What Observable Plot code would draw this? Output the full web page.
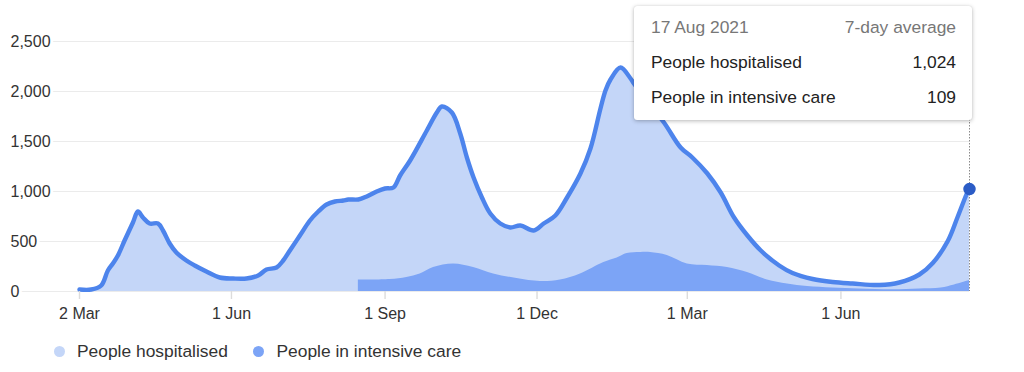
<!DOCTYPE html>
<html>
<head>
<meta charset="utf-8">
<script src="https://cdn.jsdelivr.net/npm/d3@7"></script>
<script src="https://cdn.jsdelivr.net/npm/@observablehq/plot@0.6"></script>
<style>
  html, body { margin: 0; padding: 0; background: #fff; }
  body { position: relative; width: 1024px; height: 372px; overflow: hidden;
         font-family: "Liberation Sans", Arial, Helvetica, sans-serif; }
  #chart svg { display: block; }
  .legend { position: relative; height: 42px; }
  .legend .item { position: absolute; top: 0; height: 42px; display: flex; align-items: center;
                  font-size: 17.4px; color: #333; white-space: nowrap; }
  .legend .sw { width: 11px; height: 11px; border-radius: 50%; margin-right: 12.5px; }
  .tip { position: absolute; background: #fff; border-radius: 3px;
         box-shadow: 0 1px 4px rgba(0,0,0,0.28), 0 0 1px rgba(0,0,0,0.15);
         box-sizing: border-box; padding: 0 16px 0 17px; font-size: 17.4px; color: #222; }
  .tip .row { display: flex; justify-content: space-between; height: 35px; align-items: center; white-space: nowrap; }
  .tip .head { color: #777; }
</style>
</head>
<body>
<div id="chart"></div>
<div class="legend" id="legend"></div>
<script>
// ---- data ----
const hospDates = [
  "2020-03-02","2020-03-09","2020-03-15","2020-03-19","2020-03-22","2020-03-25","2020-03-29",
  "2020-04-03","2020-04-06","2020-04-09","2020-04-13","2020-04-18","2020-04-21","2020-04-25","2020-04-29",
  "2020-05-05","2020-05-10","2020-05-17","2020-05-25","2020-06-02","2020-06-10","2020-06-17","2020-06-22",
  "2020-06-28","2020-07-02","2020-07-06","2020-07-12","2020-07-18","2020-07-23","2020-07-28","2020-08-02",
  "2020-08-07","2020-08-10","2020-08-16","2020-08-21","2020-08-27","2020-09-01","2020-09-06","2020-09-10",
  "2020-09-16","2020-09-26","2020-10-02","2020-10-05","2020-10-11","2020-10-16","2020-10-20","2020-10-24",
  "2020-10-29","2020-11-03","2020-11-09","2020-11-15","2020-11-21","2020-11-29","2020-12-05","2020-12-12",
  "2020-12-19","2020-12-27","2021-01-02","2021-01-08","2021-01-11","2021-01-14","2021-01-20","2021-01-26",
  "2021-01-28","2021-02-15","2021-02-25","2021-03-04","2021-03-13","2021-03-21","2021-03-29","2021-04-06",
  "2021-04-14","2021-04-25","2021-05-03","2021-05-15","2021-05-27","2021-06-08","2021-06-24","2021-07-06",
  "2021-07-18","2021-07-26","2021-08-04","2021-08-10","2021-08-16","2021-08-17"
];
const hospValues = [
  20,20,60,210,280,360,510,
  690,800,740,680,680,610,480,390,
  310,260,200,140,130,130,160,220,
  240,310,410,560,710,800,870,900,
  910,920,920,950,1000,1030,1040,1160,
  1310,1610,1790,1850,1790,1580,1340,1140,
  940,780,680,640,660,610,680,760,
  940,1180,1430,1830,2010,2120,2240,2130,
  2080,1690,1440,1340,1180,990,740,560,
  410,260,185,125,95,80,65,90,
  170,285,505,750,1000,1024
];
const icuDates = [
  "2020-08-16","2020-09-04","2020-09-14","2020-09-22","2020-09-30","2020-10-12","2020-10-24",
  "2020-11-05","2020-11-19","2020-12-03","2020-12-15","2020-12-27","2021-01-10","2021-01-18",
  "2021-01-24","2021-02-01","2021-02-07","2021-02-17","2021-03-01","2021-03-13","2021-03-25",
  "2021-04-06","2021-04-18","2021-04-30","2021-05-12","2021-05-27","2021-06-12","2021-07-02",
  "2021-07-18","2021-07-31","2021-08-08","2021-08-17"
];
const icuValues = [
  114,120,140,175,240,275,240,
  175,130,100,115,175,290,335,
  380,390,390,360,275,260,240,
  190,115,75,50,35,25,17,
  25,35,65,109
];
const xTickDates = ["2020-03-02","2020-06-01","2020-09-01","2020-12-01","2021-03-01","2021-06-01"];
const xTickLabels = ["2 Mar","1 Jun","1 Sep","1 Dec","1 Mar","1 Jun"];
const yTicks = [0, 500, 1000, 1500, 2000, 2500];
const seriesNames = ["People hospitalised", "People in intensive care"];
const seriesColors = ["#c4d6f8", "#7ca4f6"];
const lineColor = "#4d84ec";
const dotColor = "#2b5cc6";
const tipDate = "17 Aug 2021";
const tipHeading = "7-day average";

// ---- build ----
const parse = d3.utcParse("%Y-%m-%d");
const hosp = hospDates.map((d, i) => ({date: parse(d), value: hospValues[i]}));
const icu = icuDates.map((d, i) => ({date: parse(d), value: icuValues[i]}));
const xTicks = xTickDates.map(parse);
const tickLabel = new Map(xTicks.map((d, i) => [+d, xTickLabels[i]]));
const last = hosp[hosp.length - 1];
const lastIcu = icu[icu.length - 1];
const fmt = d3.format(",");
const curve = "catmull-rom";

const chart = Plot.plot({
  width: 1024,
  height: 330,
  marginLeft: 20,
  marginRight: 55,
  marginTop: 41,
  marginBottom: 39,
  style: {fontFamily: "'Liberation Sans', Arial, Helvetica, sans-serif", fontSize: "16px", color: "#333", background: "#fff"},
  x: {type: "utc", domain: [hosp[0].date, last.date], range: [79, 969], axis: null},
  y: {domain: [0, 2500], axis: null},
  marks: [
    Plot.ruleY(yTicks, {stroke: "#ebebeb", strokeWidth: 1.2}),
    Plot.areaY(hosp, {x: "date", y: "value", fill: seriesColors[0], curve}),
    Plot.areaY(icu, {x: "date", y: "value", fill: seriesColors[1], curve}),
    Plot.lineY(hosp, {x: "date", y: "value", stroke: lineColor, strokeWidth: 4.4, curve, strokeLinejoin: "round", strokeLinecap: "round"}),
    Plot.axisX({ticks: xTicks, tickSize: 8, tickPadding: 8, tickFormat: d => tickLabel.get(+d) ?? "",
      stroke: "#dcdcdc", strokeWidth: 1.4, fill: "#333", fontSize: 16}),
    Plot.text(yTicks, {y: d => d, text: d => fmt(d), frameAnchor: "left", dx: -10, textAnchor: "start",
      fill: "#333", stroke: "#fff", strokeWidth: 6, fontSize: 16}),
    Plot.ruleX([last], {x: "date", stroke: "#8a8a8a", strokeWidth: 1, strokeDasharray: "1.5,1.5"}),
    Plot.dot([last], {x: "date", y: "value", r: 5.5, fill: dotColor, stroke: dotColor})
  ]
});
document.getElementById("chart").appendChild(chart);

// legend
const legend = document.getElementById("legend");
const legendLeft = [53.5, 253];
seriesNames.forEach((name, i) => {
  const it = document.createElement("div");
  it.className = "item";
  it.style.left = legendLeft[i] + "px";
  it.innerHTML = `<span class="sw" style="background:${seriesColors[i]}"></span><span>${name}</span>`;
  legend.appendChild(it);
});

// tooltip
const xEnd = chart.scale("x").apply(last.date);
const tip = document.createElement("div");
tip.className = "tip";
const tipW = 338;
tip.style.left = (xEnd + 3 - tipW) + "px";
tip.style.top = "6px";
tip.style.width = tipW + "px";
tip.style.height = "114px";
tip.style.paddingTop = "4px";
tip.innerHTML = `
  <div class="row head"><span>${tipDate}</span><span>${tipHeading}</span></div>
  <div class="row"><span>${seriesNames[0]}</span><span>${fmt(last.value)}</span></div>
  <div class="row"><span>${seriesNames[1]}</span><span>${fmt(lastIcu.value)}</span></div>`;
document.body.appendChild(tip);
</script>
</body>
</html>
